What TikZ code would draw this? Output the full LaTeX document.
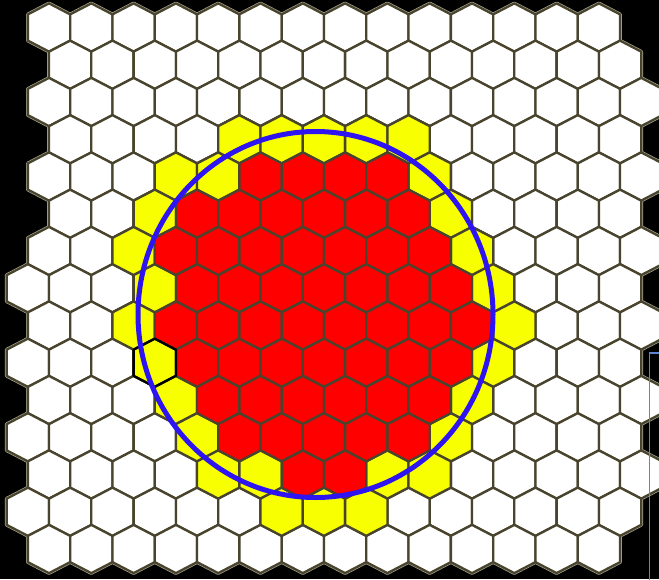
\documentclass[tikz,border=0pt]{standalone}
\definecolor{edgecol}{RGB}{72,68,45}
\definecolor{halocol}{RGB}{170,168,150}
\definecolor{hexred}{RGB}{255,0,0}
\definecolor{hexyel}{RGB}{248,255,0}
\definecolor{ringblue}{RGB}{45,20,240}
\definecolor{thinblue}{RGB}{90,135,205}
\tikzset{
  hexbase/.style={draw=edgecol, line width=2.3pt, line join=round},
  halocell/.style={draw=halocol, line width=3.6pt, line join=round},
  whitecell/.style={hexbase, fill=white},
  yelcell/.style={hexbase, fill=hexyel},
  redcell/.style={hexbase, fill=hexred},
  markcell/.style={draw=black, line width=2.3pt, line join=round},
  ring/.style={draw=ringblue, line width=5pt},
  thinframe/.style={draw=thinblue, line width=1.6pt},
}
\newcommand\drawhex[3]{%
  \pgfmathsetmacro\hcy{27.5+37.25*#1}%
  \pgfmathsetmacro\hcx{mod(#1,2)==1 ? 27.85+42.3*#2 : 49+42.3*#2}%
  \path[#3] (\hcx,\hcy-24.1) -- ++(21.15,11) -- ++(0,26.2) -- ++(-21.15,11)
     -- ++(-21.15,-11) -- ++(0,-26.2) -- cycle;%
}
\begin{document}
\begin{tikzpicture}[x=1pt,y=-1pt]
  \useasboundingbox (0,0) rectangle (659,579);
  \fill[black] (0,0) rectangle (659,579);
  \clip (0,0) rectangle (659,579);
  % white grid: soft halo, then cells
  \foreach \r/\a/\b in {0/0/13,1/1/14,2/0/14,3/1/14,4/0/14,5/1/14,6/0/14,7/0/14,
                        8/0/14,9/0/14,10/0/14,11/0/14,12/0/14,13/0/14,14/0/13}{
    \foreach \k in {\a,...,\b}{\drawhex{\r}{\k}{halocell}}
  }
  \foreach \r/\a/\b in {0/0/13,1/1/14,2/0/14,3/1/14,4/0/14,5/1/14,6/0/14,7/0/14,
                        8/0/14,9/0/14,10/0/14,11/0/14,12/0/14,13/0/14,14/0/13}{
    \foreach \k in {\a,...,\b}{\drawhex{\r}{\k}{whitecell}}
  }
  % yellow ring cells
  \foreach \r/\k in {3/5,3/6,3/7,3/8,3/9,4/3,4/4,4/9,5/3,5/10,6/2,6/10,7/3,7/11,
                     8/2,8/11,9/3,9/11,10/3,10/10,11/4,11/10,12/4,12/5,12/8,12/9,
                     13/6,13/7,13/8}{
    \drawhex{\r}{\k}{yelcell}
  }
  % red core cells
  \foreach \r/\a/\b in {4/5/8,5/4/9,6/3/9,7/4/10,8/3/10,9/4/10,10/4/9,11/5/9,12/6/7}{
    \foreach \k in {\a,...,\b}{\drawhex{\r}{\k}{redcell}}
  }
  % outlined cell
  \drawhex{9}{3}{markcell}
  % blue ring
  \coordinate (ringc) at (315.5,314.5);
  \draw[ring] (ringc) ellipse [x radius=177.5pt, y radius=183pt];
  % thin frame at right edge
  \coordinate (fa) at (662,352.7);
  \coordinate (fb) at (649.3,352.7);
  \coordinate (fc) at (649.3,582);
  \draw[thinframe] (fa) -- (fb) -- (fc);
\end{tikzpicture}
\end{document}
